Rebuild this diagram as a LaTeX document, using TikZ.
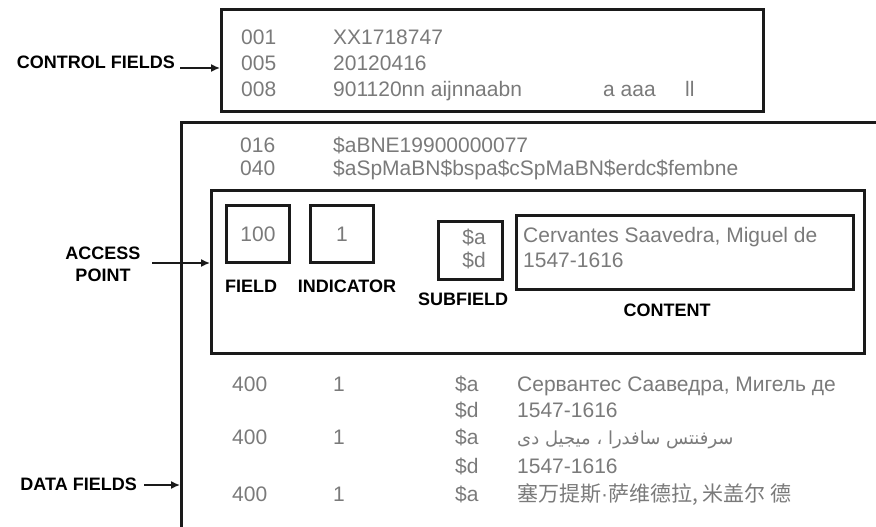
\documentclass[tikz,border=0pt]{standalone}
\usepackage{fontspec}
\setmainfont{Liberation Sans}
\newfontfamily\cjk{Noto Sans CJK SC}
\newfontfamily\arabicfont[Script=Arabic]{DejaVu Sans}
\TeXXeTstate=1
\usetikzlibrary{arrows.meta}
\definecolor{txtgray}{HTML}{7A7A7A}
\definecolor{linecol}{HTML}{1A1A1A}
\tikzset{
 box/.style={draw=linecol, line width=3pt, rectangle, inner sep=0pt, anchor=north west},
 val/.style={text=txtgray, font=\fontsize{21}{25}\selectfont, anchor=base west, inner sep=0pt},
 lbl/.style={font=\fontsize{18}{22}\selectfont\bfseries, inner sep=0pt, anchor=base},
 arr/.style={-{Latex[length=9pt,width=8pt]}, line width=1.5pt, draw=linecol},
}
\begin{document}
\begin{tikzpicture}[x=1pt,y=-1pt]
\useasboundingbox (0,0) rectangle (876,527);
% boxes
\node[box, minimum width=542, minimum height=102] (ctrl) at (220,8) {};
\node[box, minimum width=800, minimum height=500] (data) at (180,121) {};
\node[box, minimum width=653, minimum height=163] (access) at (210,189) {};
\node[box, minimum width=63, minimum height=57] (fieldbox) at (225,204) {};
\node[box, minimum width=63, minimum height=57] (indbox) at (309,204) {};
\node[box, minimum width=64, minimum height=58] (subbox) at (437,220) {};
\node[box, minimum width=337, minimum height=74] (contbox) at (515,214) {};
% side labels and arrows
\node[lbl, anchor=base east] (cfl) at (175,69) {CONTROL FIELDS};
\coordinate (cfa) at (180,68);
\draw[arr] (cfa) -- (cfa -| ctrl.west);
\node[lbl, align=center, anchor=north] (apl) at (103,247) {ACCESS\\POINT};
\coordinate (apa) at (152,263);
\draw[arr] (apa) -- (apa -| access.west);
\node[lbl, anchor=base east] (dfl) at (137,490) {DATA FIELDS};
\coordinate (dfa) at (144,485);
\draw[arr] (dfa) -- (dfa -| data.west);
% control fields
\node[val] (t001) at (241,44.5) {001};
\node[val] (t005) at (241,70.5) {005};
\node[val] (t008) at (241,96.5) {008};
\node[val] (v001) at (333,44.5) {XX1718747};
\node[val] (v005) at (333,70.5) {20120416};
\node[val] (v008) at (333,96.5) {901120nn aijnnaabn};
\node[val] (v008b) at (603,96.5) {a aaa};
\node[val] (v008c) at (685,96.5) {ll};
% 016 / 040
\node[val] (t016) at (240,152) {016};
\node[val] (t040) at (240,175) {040};
\node[val] (v016) at (333,152) {\$aBNE19900000077};
\node[val] (v040) at (333,175) {\$aSpMaBN\$bspa\$cSpMaBN\$erdc\$fembne};
% access point
\node[val, anchor=center] (f100) at (fieldbox.center) {100};
\node[val, anchor=center] (i1) at (indbox.center) {1};
\node[val, anchor=base east] (sa) at (486,244) {\$a};
\node[val, anchor=base east] (sd) at (486,267) {\$d};
\node[val] (ca) at (523,242) {Cervantes Saavedra, Miguel de};
\node[val] (cd) at (523,267) {1547-1616};
\node[lbl] (lfield) at (251,292) {FIELD};
\node[lbl] (lind) at (347,292) {INDICATOR};
\node[lbl] (lsub) at (463,305) {SUBFIELD};
\node[lbl] (lcont) at (667,316) {CONTENT};
% data fields
\node[val] (r1t) at (232,391.5) {400};
\node[val] (r2t) at (232,444.5) {400};
\node[val] (r3t) at (232,501.5) {400};
\node[val] (r1i) at (333,391.5) {1};
\node[val] (r2i) at (333,444.5) {1};
\node[val] (r3i) at (333,501.5) {1};
\node[val] (r1a) at (455,391.5) {\$a};
\node[val] (r1d) at (455,417.5) {\$d};
\node[val] (r2a) at (455,444.5) {\$a};
\node[val] (r2d) at (455,473.5) {\$d};
\node[val] (r3a) at (455,501.5) {\$a};
\node[val] (r1av) at (517,391.5) {Сервантес Сааведра, Мигель де};
\node[val] (r1dv) at (517,417.5) {1547-1616};
\node[val, font=\fontsize{18}{22}\arabicfont] (r2av) at (517,444.5) {\beginR سرفنتس سافدرا ، ميجيل دی\endR};
\node[val] (r2dv) at (517,473.5) {1547-1616};
\node[val, font=\fontsize{21}{25}\cjk] (r3av) at (517,501.5) {塞万提斯{\rmfamily\fontsize{21}{25}\selectfont ·}萨维德拉, 米盖尔 德};
\end{tikzpicture}
\end{document}
